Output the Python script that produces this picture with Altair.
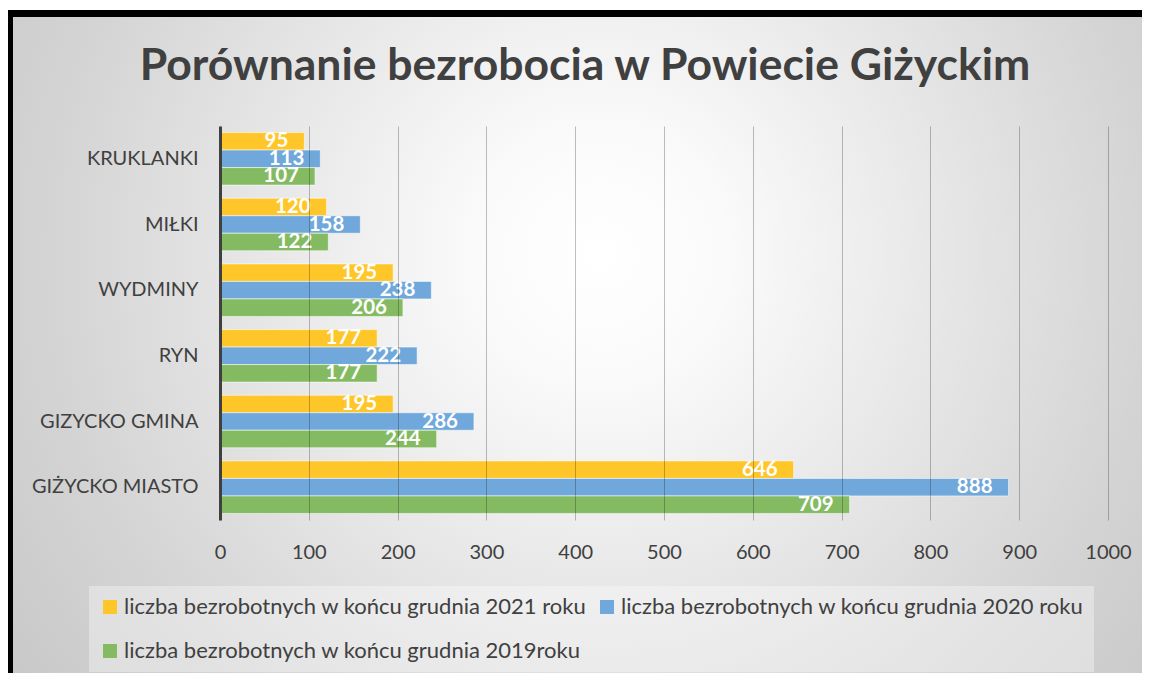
import altair as alt
import pandas as pd

categories = ["KRUKLANKI", "MIŁKI", "WYDMINY", "RYN", "GIZYCKO GMINA", "GIŻYCKO MIASTO"]
series = [
    "liczba bezrobotnych w końcu grudnia 2021 roku",
    "liczba bezrobotnych w końcu grudnia 2020 roku",
    "liczba bezrobotnych w końcu grudnia 2019roku",
]
values_2021 = [95, 120, 195, 177, 195, 646]
values_2020 = [113, 158, 238, 222, 286, 888]
values_2019 = [107, 122, 206, 177, 244, 709]
x_ticks = [0, 100, 200, 300, 400, 500, 600, 700, 800, 900, 1000]
colors = ["#FFC629", "#70A8DC", "#84BB62"]
title_text = "Porównanie bezrobocia w Powiecie Giżyckim"

rows = []
for s, vals in zip(series, [values_2021, values_2020, values_2019]):
    for c, v in zip(categories, vals):
        rows.append({"gmina": c, "seria": s, "liczba": v})
df = pd.DataFrame(rows)

# legend is laid out column-first: 2021 | 2020 on row 1, 2019 on row 2
legend_order = [series[0], series[2], series[1]]
legend_colors = [colors[0], colors[2], colors[1]]

FONT = "Lato"
W, H = 888, 394

bg_df = pd.DataFrame({"k": [0]})
frame = alt.Chart(bg_df).mark_rect(color="#000000").encode(
    x=alt.value(-212), x2=alt.value(922), y=alt.value(-116), y2=alt.value(547)
)
gradient = {
    "gradient": "radial",
    "x1": 0.52, "y1": 0.42, "r1": 0,
    "x2": 0.52, "y2": 0.42, "r2": 0.75,
    "stops": [
        {"offset": 0, "color": "#ffffff"},
        {"offset": 0.15, "color": "#fafafa"},
        {"offset": 0.65, "color": "#d4d4d4"},
        {"offset": 1, "color": "#c0c0c0"},
    ],
}
bg = alt.Chart(bg_df).mark_rect(color=gradient).encode(
    x=alt.value(-207), x2=alt.value(922), y=alt.value(-109), y2=alt.value(547)
)
title = alt.Chart(bg_df).mark_text(
    text=title_text, font=FONT, fontSize=44.5, fontWeight="bold", color="#404040",
    align="center", baseline="alphabetic",
).encode(x=alt.value(365), y=alt.value(-46))

y_enc = alt.Y(
    "gmina:N",
    sort=categories,
    scale=alt.Scale(paddingInner=0.2, paddingOuter=0.1),
    axis=alt.Axis(
        title=None, ticks=False, grid=False, domainColor="#404040", domainWidth=3,
        labelFont=FONT, labelFontSize=20, labelColor="#404040", labelPadding=22,
        zindex=1,
    ),
)
x_enc = alt.X(
    "liczba:Q",
    scale=alt.Scale(domain=[0, 1000], nice=False),
    axis=alt.Axis(
        title=None, values=x_ticks, format="d", ticks=False, domain=False, grid=True,
        gridColor="#000000", gridOpacity=0.25, gridWidth=1, labelFlush=False,
        labelFont=FONT, labelFontSize=20, labelColor="#404040", labelPadding=22,
        zindex=1,
    ),
)
yoff = alt.YOffset("seria:N", sort=series)

bars = alt.Chart(df).mark_bar(stroke="#ffffff", strokeOpacity=0.55, strokeWidth=1).encode(
    y=y_enc,
    x=x_enc,
    yOffset=yoff,
    color=alt.Color(
        "seria:N",
        scale=alt.Scale(domain=legend_order, range=legend_colors),
        legend=alt.Legend(
            title=None, orient="none", legendX=-131, legendY=460, columns=2,
            symbolType="square", symbolSize=196, symbolStrokeWidth=0,
            labelFont=FONT, labelFontSize=22, labelColor="#404040", labelLimit=1000,
            labelOffset=3, columnPadding=9, rowPadding=22, padding=10,
            fillColor="rgba(255,255,255,0.35)",
        ),
    ),
)
labels = alt.Chart(df).mark_text(
    align="right", baseline="middle", dx=-16, color="#ffffff",
    font=FONT, fontSize=20.5, fontWeight="bold",
).encode(
    y=alt.Y("gmina:N", sort=categories),
    x=alt.X("liczba:Q"),
    yOffset=yoff,
    text=alt.Text("liczba:Q"),
)

chart = alt.layer(frame, bg, title, bars, labels).properties(
    width=W,
    height=H,
    autosize=alt.AutoSizeParams(type="none"),
    padding={"left": 212, "top": 118, "right": 34, "bottom": 153},
).configure(background="#ffffff").configure_view(stroke=None)

chart.save("out.html", embed_options={"renderer": "svg", "actions": False})
